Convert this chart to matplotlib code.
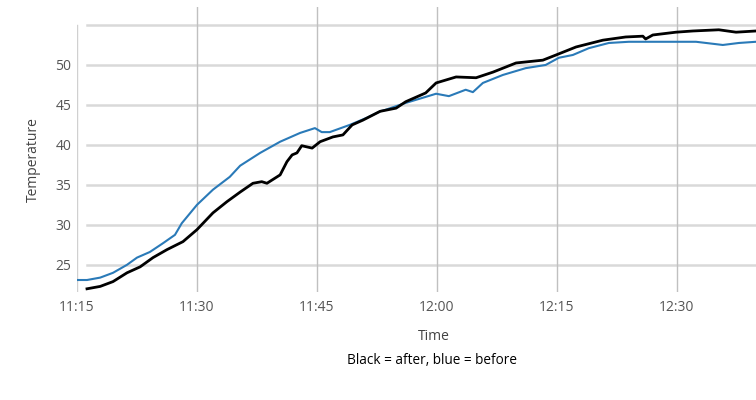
import matplotlib
matplotlib.use("Agg")
import matplotlib.pyplot as plt

# minutes after 11:15
before_t = [0.0, 1.25, 2.9, 4.5, 6.25, 7.5, 9.1, 10.75, 12.25, 13.1, 15.0, 17.0, 19.1, 20.4, 22.9,
            25.4, 27.9, 29.75, 30.6, 31.6, 34.1, 36.25, 37.9, 38.6, 41.1, 44.9, 46.5, 48.6, 49.5,
            50.75, 53.25, 56.1, 58.6, 60.25, 62.0, 64.0, 66.5, 69.0, 71.5, 74.9, 77.4, 80.75, 82.75, 84.9]
before_v = [23.1, 23.1, 23.4, 24.0, 25.0, 25.9, 26.6, 27.7, 28.75, 30.2, 32.5, 34.4, 36.0, 37.4, 39.0,
            40.4, 41.5, 42.1, 41.6, 41.6, 42.5, 43.4, 44.2, 44.4, 45.25, 46.4, 46.1, 46.9, 46.6,
            47.75, 48.75, 49.6, 50.0, 50.9, 51.25, 52.1, 52.75, 52.9, 52.9, 52.9, 52.9, 52.5, 52.75, 52.9]

after_t = [1.25, 2.9, 4.5, 6.25, 7.9, 9.5, 11.25, 13.25, 15.0, 17.0, 18.75, 20.4, 22.0, 23.1, 23.75,
           25.4, 26.25, 26.9, 27.5, 28.1, 29.4, 30.4, 32.0, 33.25, 34.4, 35.75, 37.9, 39.9, 41.1,
           43.6, 44.9, 47.4, 49.9, 52.0, 54.9, 58.25, 59.9, 62.4, 65.75, 68.6, 70.75, 71.1, 72.0,
           74.9, 77.0, 80.25, 82.4, 84.9]
after_v = [22.0, 22.3, 22.9, 24.0, 24.75, 25.9, 26.9, 27.9, 29.4, 31.5, 32.9, 34.1, 35.2, 35.4, 35.2,
           36.25, 37.9, 38.75, 39.0, 39.9, 39.6, 40.4, 41.0, 41.25, 42.5, 43.1, 44.2, 44.6, 45.4,
           46.5, 47.75, 48.5, 48.4, 49.1, 50.25, 50.6, 51.25, 52.25, 53.1, 53.5, 53.6, 53.25, 53.75,
           54.1, 54.25, 54.4, 54.1, 54.25]

xticks = [0, 15, 30, 45, 60, 75]
xlabels = ["11:15", "11:30", "11:45", "12:00", "12:15", "12:30"]
ygrid = [25, 30, 35, 40, 45, 50, 55]
yticks = [25, 30, 35, 40, 45, 50]

fig = plt.figure(figsize=(7.56, 4.0), dpi=100)
ax = fig.add_axes([77/756, 1-292/400, 679/756, 285/400])
ax.set_xlim(0, 84.9)
ax.set_ylim(21.6, 57.25)

for y in ygrid:
    ax.axhline(y, xmin=10/679, xmax=1, color="#d9d9d9", lw=1.8, zorder=1)
for i, x in enumerate(xticks):
    if i == 0:
        ax.axvline(x, ymin=0, ymax=(292-25)/285, color="#d0d0d0", lw=1.0, zorder=1)
    else:
        ax.axvline(x, color="#c0c0c0", lw=1.0, zorder=1)

ax.plot(before_t, before_v, color="#2a7ab8", lw=1.5, zorder=3)
ax.plot(after_t, after_v, color="#000000", lw=2.0, zorder=4)

for s in ax.spines.values():
    s.set_visible(False)
ax.set_xticks(xticks)
ax.set_xticklabels(xlabels, family=["Open Sans", "DejaVu Sans"], fontsize=10, color="#555555")
ax.set_yticks(yticks)
ax.set_yticklabels([str(v) for v in yticks], family=["Open Sans", "DejaVu Sans"], fontsize=10, color="#555555")
ax.tick_params(length=0, pad=4)
ax.tick_params(axis="x", pad=6)

fig.text(33/756, 1-160/400, "Temperature", rotation=90, ha="center", va="center",
         family=["Open Sans", "DejaVu Sans"], fontsize=10, color="#444444")
fig.text(434/756, 1-337/400, "Time", ha="center", va="center",
         family=["Open Sans", "DejaVu Sans"], fontsize=10, color="#444444")
fig.text(432/756, 1-360/400, "Black = after, blue = before", ha="center", va="center",
         family=["Open Sans", "DejaVu Sans"], fontsize=9.8, color="#000000")

fig.savefig("out.png", dpi=100)
